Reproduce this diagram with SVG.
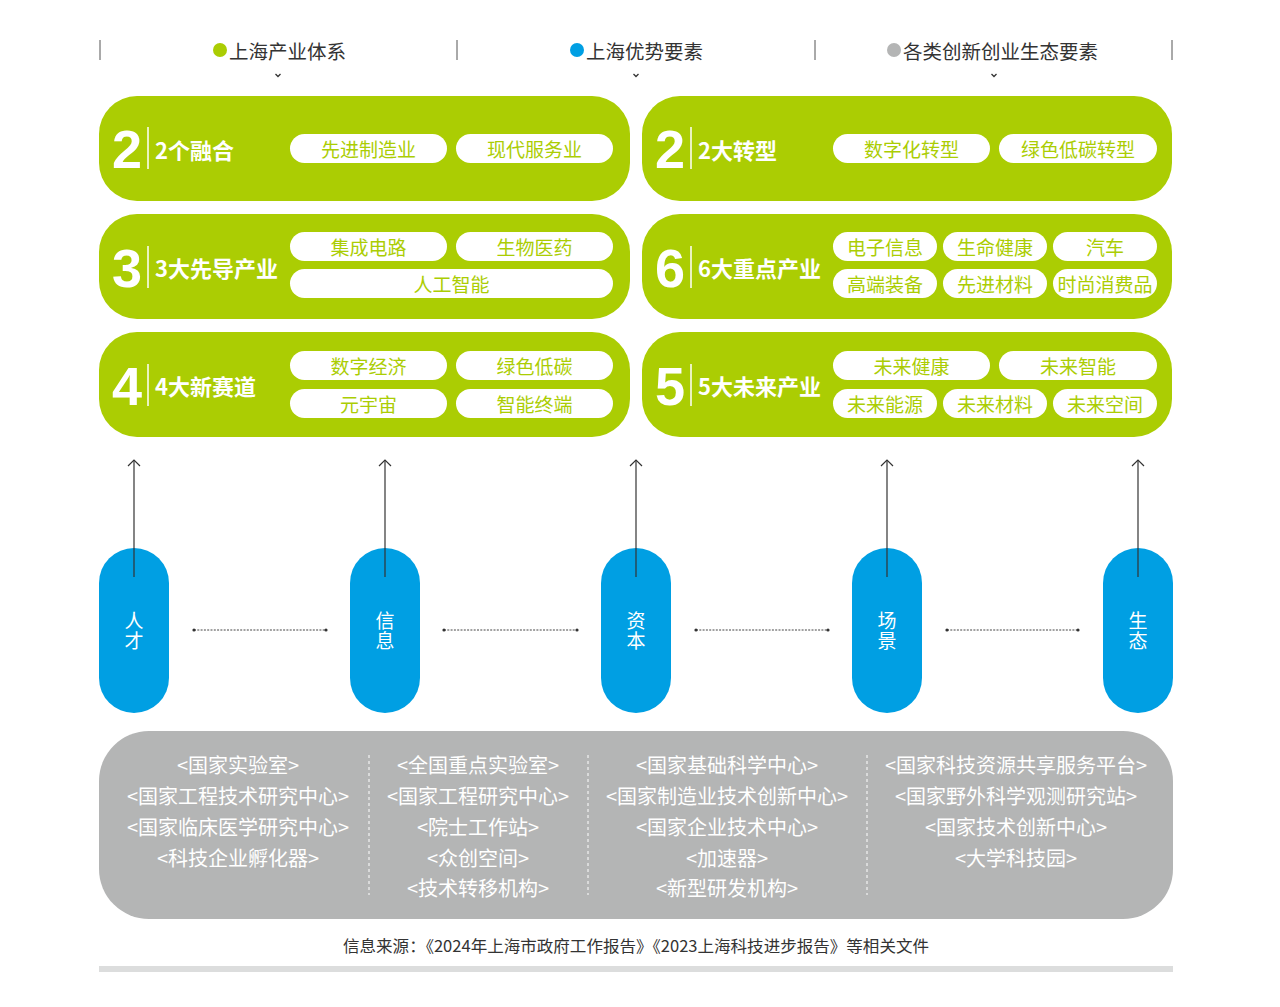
<svg xmlns="http://www.w3.org/2000/svg" width="1280" height="1007" viewBox="0 0 1280 1007">
<defs>
<style>
.cjk{font-family:"Noto Sans CJK SC","Noto Sans",sans-serif}
.hd{font-size:19.5px;fill:#333;dominant-baseline:central}
.box{fill:#ABCD03}
.big{font-family:"Liberation Sans",Arial,sans-serif;font-weight:bold;font-size:54px;fill:#fff}
.lbl{font-size:22px;font-weight:bold;fill:#fff;dominant-baseline:central}
.pill{fill:#fff}
.pt{font-size:19px;fill:#ABCD03;text-anchor:middle;dominant-baseline:central}
.bn{fill:#009FE3}
.bt{font-size:19px;fill:#fff;text-anchor:middle;writing-mode:vertical-rl;letter-spacing:1px}
.gt{font-size:20px;fill:#fff;text-anchor:middle;dominant-baseline:central}
.arr{stroke:#333;stroke-width:1.2;fill:none}
.dot{stroke:#444;stroke-width:1;stroke-dasharray:2 1.3;fill:none}
.sep{stroke:#fff;stroke-width:1;stroke-dasharray:3 3;fill:none}
</style>
<marker id="ah" markerWidth="14" markerHeight="10" refX="7" refY="1" orient="0" markerUnits="userSpaceOnUse" viewBox="0 0 14 10">
<path d="M1,7 L7,1 L13,7" fill="none" stroke="#333" stroke-width="1.2"/>
</marker>
</defs>
<rect width="1280" height="1007" fill="#fff"/>

<g id="header">
<g stroke="#555" stroke-width="1">
<line x1="100" y1="40" x2="100" y2="60"/><line x1="457" y1="40" x2="457" y2="60"/>
<line x1="815" y1="40" x2="815" y2="60"/><line x1="1172" y1="40" x2="1172" y2="60"/>
</g>
<circle cx="220" cy="50" r="7" fill="#ABCD03"/>
<text class="cjk hd" x="229" y="50">上海产业体系</text>
<circle cx="577" cy="50" r="7" fill="#009FE3"/>
<text class="cjk hd" x="586" y="50">上海优势要素</text>
<circle cx="894" cy="50" r="7" fill="#B4B5B5"/>
<text class="cjk hd" x="903" y="50">各类创新创业生态要素</text>
<g fill="none" stroke="#333" stroke-width="1.3">
<path d="M275.5,74 L278,76.5 L280.5,74"/><path d="M633.5,74 L636,76.5 L638.5,74"/><path d="M991.5,74 L994,76.5 L996.5,74"/>
</g>
</g>

<g id="box-2-fusion">
<rect class="box" x="99" y="96" width="531" height="105" rx="38"/>
<text class="big" x="112" y="168">2</text>
<line x1="148" y1="127" x2="148" y2="169" stroke="#fff" stroke-width="1.5"/>
<text class="cjk lbl" x="155" y="149">2个融合</text>
<rect class="pill" x="290" y="134" width="157" height="29" rx="14.5"/><text class="cjk pt" x="368.5" y="148.5">先进制造业</text>
<rect class="pill" x="456" y="134" width="157" height="29" rx="14.5"/><text class="cjk pt" x="534.5" y="148.5">现代服务业</text>
</g>

<g id="box-3-leading">
<rect class="box" x="99" y="214" width="531" height="105" rx="38"/>
<text class="big" x="112" y="287">3</text>
<line x1="148" y1="246" x2="148" y2="288" stroke="#fff" stroke-width="1.5"/>
<text class="cjk lbl" x="155" y="267">3大先导产业</text>
<rect class="pill" x="290" y="232" width="157" height="29" rx="14.5"/><text class="cjk pt" x="368.5" y="246.5">集成电路</text>
<rect class="pill" x="456" y="232" width="157" height="29" rx="14.5"/><text class="cjk pt" x="534.5" y="246.5">生物医药</text>
<rect class="pill" x="290" y="269" width="323" height="29" rx="14.5"/><text class="cjk pt" x="451.5" y="283.5">人工智能</text>
</g>

<g id="box-4-tracks">
<rect class="box" x="99" y="332" width="531" height="105" rx="38"/>
<text class="big" x="112" y="405">4</text>
<line x1="148" y1="364" x2="148" y2="406" stroke="#fff" stroke-width="1.5"/>
<text class="cjk lbl" x="155" y="385">4大新赛道</text>
<rect class="pill" x="290" y="351" width="157" height="29" rx="14.5"/><text class="cjk pt" x="368.5" y="365.5">数字经济</text>
<rect class="pill" x="456" y="351" width="157" height="29" rx="14.5"/><text class="cjk pt" x="534.5" y="365.5">绿色低碳</text>
<rect class="pill" x="290" y="389" width="157" height="29" rx="14.5"/><text class="cjk pt" x="368.5" y="403.5">元宇宙</text>
<rect class="pill" x="456" y="389" width="157" height="29" rx="14.5"/><text class="cjk pt" x="534.5" y="403.5">智能终端</text>
</g>

<g id="box-2-transform">
<rect class="box" x="642" y="96" width="530" height="105" rx="38"/>
<text class="big" x="655" y="168">2</text>
<line x1="691" y1="127" x2="691" y2="169" stroke="#fff" stroke-width="1.5"/>
<text class="cjk lbl" x="698" y="149">2大转型</text>
<rect class="pill" x="833" y="134" width="157" height="29" rx="14.5"/><text class="cjk pt" x="911.5" y="148.5">数字化转型</text>
<rect class="pill" x="999" y="134" width="158" height="29" rx="14.5"/><text class="cjk pt" x="1078" y="148.5">绿色低碳转型</text>
</g>

<g id="box-6-key">
<rect class="box" x="642" y="214" width="530" height="105" rx="38"/>
<text class="big" x="655" y="287">6</text>
<line x1="691" y1="246" x2="691" y2="288" stroke="#fff" stroke-width="1.5"/>
<text class="cjk lbl" x="698" y="267">6大重点产业</text>
<rect class="pill" x="833" y="232" width="104" height="29" rx="14.5"/><text class="cjk pt" x="885" y="246.5">电子信息</text>
<rect class="pill" x="943" y="232" width="104" height="29" rx="14.5"/><text class="cjk pt" x="995" y="246.5">生命健康</text>
<rect class="pill" x="1053" y="232" width="104" height="29" rx="14.5"/><text class="cjk pt" x="1105" y="246.5">汽车</text>
<rect class="pill" x="833" y="269" width="104" height="29" rx="14.5"/><text class="cjk pt" x="885" y="283.5">高端装备</text>
<rect class="pill" x="943" y="269" width="104" height="29" rx="14.5"/><text class="cjk pt" x="995" y="283.5">先进材料</text>
<rect class="pill" x="1053" y="269" width="104" height="29" rx="14.5"/><text class="cjk pt" x="1105" y="283.5">时尚消费品</text>
</g>

<g id="box-5-future">
<rect class="box" x="642" y="332" width="530" height="105" rx="38"/>
<text class="big" x="655" y="405">5</text>
<line x1="691" y1="364" x2="691" y2="406" stroke="#fff" stroke-width="1.5"/>
<text class="cjk lbl" x="698" y="385">5大未来产业</text>
<rect class="pill" x="833" y="351" width="157" height="29" rx="14.5"/><text class="cjk pt" x="911.5" y="365.5">未来健康</text>
<rect class="pill" x="999" y="351" width="158" height="29" rx="14.5"/><text class="cjk pt" x="1078" y="365.5">未来智能</text>
<rect class="pill" x="833" y="389" width="104" height="29" rx="14.5"/><text class="cjk pt" x="885" y="403.5">未来能源</text>
<rect class="pill" x="943" y="389" width="104" height="29" rx="14.5"/><text class="cjk pt" x="995" y="403.5">未来材料</text>
<rect class="pill" x="1053" y="389" width="104" height="29" rx="14.5"/><text class="cjk pt" x="1105" y="403.5">未来空间</text>
</g>

<g id="node-talent"><rect class="bn" x="99" y="548" width="70" height="165" rx="35"/><text class="cjk bt" x="134" y="631">人才</text></g>
<g id="node-info"><rect class="bn" x="350" y="548" width="70" height="165" rx="35"/><text class="cjk bt" x="385" y="631">信息</text></g>
<g id="node-capital"><rect class="bn" x="601" y="548" width="70" height="165" rx="35"/><text class="cjk bt" x="636" y="631">资本</text></g>
<g id="node-scene"><rect class="bn" x="852" y="548" width="70" height="165" rx="35"/><text class="cjk bt" x="887" y="631">场景</text></g>
<g id="node-eco"><rect class="bn" x="1103" y="548" width="70" height="165" rx="35"/><text class="cjk bt" x="1138" y="631">生态</text></g>

<g id="connectors">
<line class="arr" x1="134" y1="577" x2="134" y2="460" marker-end="url(#ah)"/>
<line class="arr" x1="385" y1="577" x2="385" y2="460" marker-end="url(#ah)"/>
<line class="arr" x1="636" y1="577" x2="636" y2="460" marker-end="url(#ah)"/>
<line class="arr" x1="887" y1="577" x2="887" y2="460" marker-end="url(#ah)"/>
<line class="arr" x1="1138" y1="577" x2="1138" y2="460" marker-end="url(#ah)"/>
<g fill="#333">
<line class="dot" x1="194" y1="630" x2="326" y2="630"/><circle cx="194" cy="630" r="1.6"/><circle cx="326" cy="630" r="1.6"/>
<line class="dot" x1="444" y1="630" x2="577" y2="630"/><circle cx="444" cy="630" r="1.6"/><circle cx="577" cy="630" r="1.6"/>
<line class="dot" x1="696" y1="630" x2="828" y2="630"/><circle cx="696" cy="630" r="1.6"/><circle cx="828" cy="630" r="1.6"/>
<line class="dot" x1="947" y1="630" x2="1078" y2="630"/><circle cx="947" cy="630" r="1.6"/><circle cx="1078" cy="630" r="1.6"/>
</g>
</g>

<g id="platforms">
<rect x="99" y="731" width="1074" height="188" rx="50" fill="#B4B5B5"/>
<line class="sep" x1="369" y1="755" x2="369" y2="895"/>
<line class="sep" x1="588" y1="755" x2="588" y2="895"/>
<line class="sep" x1="867" y1="755" x2="867" y2="895"/>
<g class="cjk">
<text class="gt" x="238" y="764">&lt;国家实验室&gt;</text>
<text class="gt" x="238" y="795">&lt;国家工程技术研究中心&gt;</text>
<text class="gt" x="238" y="826">&lt;国家临床医学研究中心&gt;</text>
<text class="gt" x="238" y="857">&lt;科技企业孵化器&gt;</text>
<text class="gt" x="478" y="764">&lt;全国重点实验室&gt;</text>
<text class="gt" x="478" y="795">&lt;国家工程研究中心&gt;</text>
<text class="gt" x="478" y="826">&lt;院士工作站&gt;</text>
<text class="gt" x="478" y="857">&lt;众创空间&gt;</text>
<text class="gt" x="478" y="887">&lt;技术转移机构&gt;</text>
<text class="gt" x="727" y="764">&lt;国家基础科学中心&gt;</text>
<text class="gt" x="727" y="795">&lt;国家制造业技术创新中心&gt;</text>
<text class="gt" x="727" y="826">&lt;国家企业技术中心&gt;</text>
<text class="gt" x="727" y="857">&lt;加速器&gt;</text>
<text class="gt" x="727" y="887">&lt;新型研发机构&gt;</text>
<text class="gt" x="1016" y="764">&lt;国家科技资源共享服务平台&gt;</text>
<text class="gt" x="1016" y="795">&lt;国家野外科学观测研究站&gt;</text>
<text class="gt" x="1016" y="826">&lt;国家技术创新中心&gt;</text>
<text class="gt" x="1016" y="857">&lt;大学科技园&gt;</text>
</g>
</g>

<g id="footer">
<text class="cjk" x="636" y="945" font-size="16" fill="#333" text-anchor="middle" dominant-baseline="central" textLength="586" lengthAdjust="spacingAndGlyphs">信息来源：《2024年上海市政府工作报告》《2023上海科技进步报告》等相关文件</text>
<rect x="99" y="966" width="1074" height="6" fill="#DCDDDD"/>
</g>
</svg>
